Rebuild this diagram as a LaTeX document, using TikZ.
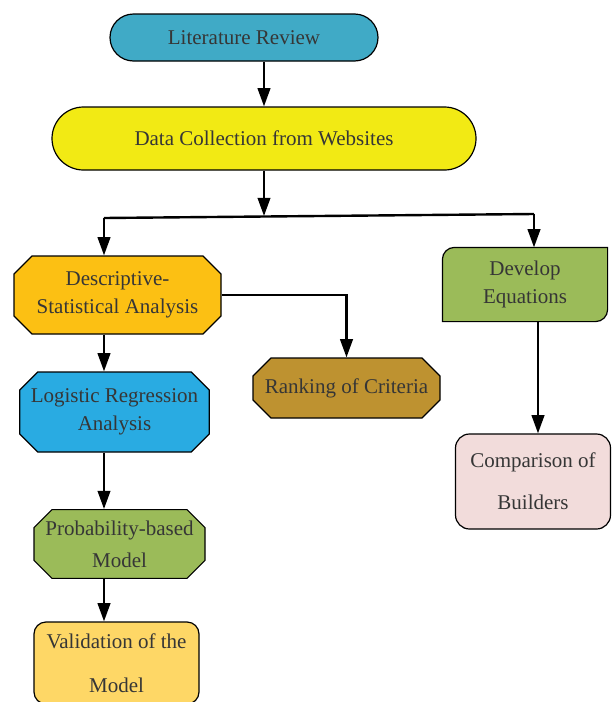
\documentclass[tikz,border=0pt]{standalone}
\usepackage{fontspec}
\setmainfont{Liberation Serif}
\usepackage{xcolor}
\usetikzlibrary{arrows.meta,positioning,shapes.misc,backgrounds}
\definecolor{cink}{HTML}{363636}
\definecolor{cteal}{HTML}{40AAC6}
\definecolor{cyell}{HTML}{F2EA14}
\definecolor{camber}{HTML}{FCC013}
\definecolor{cbrown}{HTML}{BE9230}
\definecolor{cblue}{HTML}{29ABE2}
\definecolor{cgreen}{HTML}{9BBB59}
\definecolor{csand}{HTML}{FED766}
\definecolor{cpink}{HTML}{F2DCDB}
\newcommand{\fs}[1]{\fontsize{10.5}{#1}\selectfont}
\tikzset{
  >={Triangle[length=3.2mm,width=2.2mm]},
  base/.style={line width=0.6pt,align=center,text=cink,font=\fs{14pt},inner sep=1pt},
  pill/.style={base,draw=black,rounded rectangle,fill=#1},
  cham/.style={base,draw=black,chamfered rectangle,chamfered rectangle xsep=4.5pt,
               chamfered rectangle ysep=4.5pt,fill=#1},
  rbox/.style={base,draw=black,rounded corners=6pt,fill=#1},
  flow/.style={->,line width=1.2pt},
}

\begin{document}
\begin{tikzpicture}[x=0.5pt,y=0.5pt]
\useasboundingbox (0,0) rectangle (611,-702);

\node[pill=cteal,minimum width=136pt,minimum height=23.5pt] (lit) at (244,-37.5) {Literature Review};
\node[pill=cyell,minimum width=214pt,minimum height=31.5pt] (data) at (264,-138.5) {Data Collection from Websites};

\node[cham=camber,minimum width=103.5pt,minimum height=39pt] (desc) at (117.5,-295) {Descriptive-\\Statistical Analysis};
\node[cham=cbrown,minimum width=93.5pt,minimum height=30pt] (rank) at (346.5,-388) {Ranking of Criteria};
\node[cham=cblue,minimum width=94.5pt,minimum height=40pt] (logit) at (114.5,-412) {Logistic Regression\\Analysis};
\node[cham=cgreen,minimum width=85.5pt,minimum height=32pt,font=\fs{16pt}] (prob) at (119.5,-544) {Probability-based\\Model};
\node[rbox=csand,minimum width=82.5pt,minimum height=41pt,font=\fs{22pt}] (valid) at (116.5,-663) {Validation of the\\Model};

\node[base,minimum width=82pt,minimum height=36.5pt] (dev) at (525,-284.5) {Develop\\Equations};
\node[rbox=cpink,rounded corners=7pt,minimum width=77.5pt,minimum height=47.5pt,font=\fs{21pt}] (comp) at (533,-481.5) {Comparison of\\Builders};

\begin{scope}[on background layer]
  \draw[line width=0.6pt,fill=cgreen] (dev.south west) -- ([yshift=-6pt]dev.north west)
    arc[start angle=180,end angle=90,radius=6pt] -- (dev.north east)
    -- ([yshift=6pt]dev.south east) arc[start angle=0,end angle=-90,radius=6pt] -- cycle;
\end{scope}

% branch points
\coordinate (jn) at (264,-216);
\coordinate (bl) at (104,-218);
\coordinate (br) at (534,-214);
\coordinate (dx) at (538,0);

\draw[flow] (data.north |- lit.south) -- (data.north);
\draw[flow] (data.south) -- (jn);
\draw[line width=1.2pt] (bl) -- (br);
\draw[flow] (bl) -- (bl |- desc.north);
\draw[flow] (br) -- (br |- dev.north);
\draw[flow] (desc.east) -| (rank.north);
\foreach \a/\b in {desc/logit,logit/prob,prob/valid}
  \draw[flow] (bl |- \a.south) -- (bl |- \b.north);
\draw[flow] (dx |- dev.south) -- (dx |- comp.north);

\end{tikzpicture}
\end{document}
